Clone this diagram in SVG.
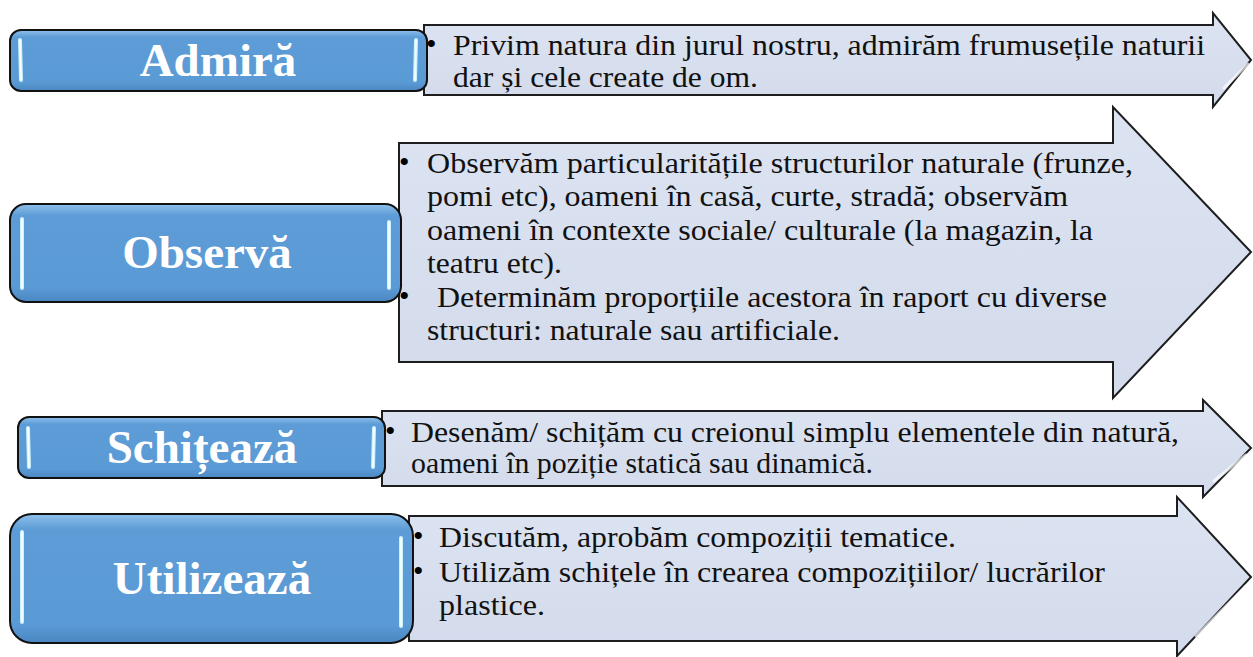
<svg xmlns="http://www.w3.org/2000/svg" width="1253" height="657" viewBox="0 0 1253 657">
  <defs>
    <linearGradient id="boxGrad" x1="0" y1="0" x2="0" y2="1">
      <stop offset="0" stop-color="#8EC0EC"/>
      <stop offset="0.12" stop-color="#5D9CD6"/>
      <stop offset="0.85" stop-color="#5B9BD5"/>
      <stop offset="1" stop-color="#4A87C2"/>
    </linearGradient>
    <linearGradient id="arrowGrad" x1="0" y1="0" x2="0" y2="1">
      <stop offset="0" stop-color="#DCE3F1"/>
      <stop offset="1" stop-color="#D3DBEC"/>
    </linearGradient>
  </defs>
  <style>
    .arrow { fill: url(#arrowGrad); stroke: #1E1E1E; stroke-width: 2; stroke-linejoin: miter; }
    .shine { fill: none; stroke: #FFFFFF; stroke-width: 3; stroke-linecap: round; opacity: 0.7; }
    .box { fill: url(#boxGrad); stroke: #111111; stroke-width: 2; }
    .glow { stroke: #C9F1FF; stroke-width: 4; stroke-linecap: round; }
    .glowc { stroke: #FFFFFF; stroke-width: 1.5; stroke-linecap: round; }
    .label { font-family: "Liberation Serif", "Times New Roman", serif; font-weight: bold; font-size: 47px; fill: #FFFFFF; text-anchor: middle; }
    .body { font-family: "Liberation Serif", "Times New Roman", serif; font-size: 30px; fill: #111111; }
    .bul { font-family: "Liberation Serif", "Times New Roman", serif; font-size: 30px; fill: #000000; }
  </style>

  <g id="connectors"></g>

  <g id="row-admira">
    <path class="arrow" d="M424,25 H1213 V13 L1251,60 L1213,107 V95 H424 Z"/>
    <path class="shine" d="M1248,64 L1224,88"/>
    <rect class="box" x="10" y="30" width="417" height="61" rx="11"/>
    <line class="glow" x1="20" y1="40" x2="21" y2="80"/><line class="glowc" x1="20" y1="40" x2="21" y2="80"/>
    <line class="glow" x1="416" y1="40" x2="415" y2="80"/><line class="glowc" x1="416" y1="40" x2="415" y2="80"/>
    <text class="label" x="218" y="76">Admiră</text>
    <text class="bul" x="426" y="54">•</text>
    <text class="body" x="453" y="55" textLength="752" lengthAdjust="spacingAndGlyphs">Privim natura din jurul nostru, admirăm frumusețile naturii</text>
    <text class="body" x="453" y="87" textLength="305" lengthAdjust="spacingAndGlyphs">dar și cele create de om.</text>
  </g>

  <g id="row-observa">
    <path class="arrow" d="M399,143 H1113 V107 L1251,252 L1113,398 V362 H399 Z"/>
    <path class="shine" d="M1246,262 L1150,368"/>
    <rect class="box" x="10" y="204" width="391" height="98" rx="16"/>
    <line class="glow" x1="22" y1="219" x2="22" y2="288"/><line class="glowc" x1="22" y1="219" x2="22" y2="288"/>
    <line class="glow" x1="389" y1="222" x2="389" y2="288"/><line class="glowc" x1="389" y1="222" x2="389" y2="288"/>
    <text class="label" x="207" y="268">Observă</text>
    <text class="bul" x="399" y="172">•</text>
    <text class="body" x="427" y="173" textLength="706" lengthAdjust="spacingAndGlyphs">Observăm particularitățile structurilor naturale (frunze,</text>
    <text class="body" x="427" y="206" textLength="641" lengthAdjust="spacingAndGlyphs">pomi etc), oameni în casă, curte, stradă; observăm</text>
    <text class="body" x="427" y="240" textLength="666" lengthAdjust="spacingAndGlyphs">oameni în contexte sociale/ culturale (la magazin, la</text>
    <text class="body" x="427" y="273" textLength="135" lengthAdjust="spacingAndGlyphs">teatru etc).</text>
    <text class="bul" x="399" y="306">•</text>
    <text class="body" x="437" y="307" textLength="670" lengthAdjust="spacingAndGlyphs">Determinăm proporțiile acestora în raport cu diverse</text>
    <text class="body" x="427" y="340" textLength="413" lengthAdjust="spacingAndGlyphs">structuri: naturale sau artificiale.</text>
  </g>

  <g id="row-schiteaza">
    <path class="arrow" d="M382,411 H1203 V400 L1251,448 L1203,497 V486 H382 Z"/>
    <path class="shine" d="M1246,455 L1214,481"/>
    <rect class="box" x="18" y="417" width="367" height="61" rx="11"/>
    <line class="glow" x1="28" y1="428" x2="29" y2="467"/><line class="glowc" x1="28" y1="428" x2="29" y2="467"/>
    <line class="glow" x1="374" y1="428" x2="373" y2="467"/><line class="glowc" x1="374" y1="428" x2="373" y2="467"/>
    <text class="label" x="202" y="463">Schițează</text>
    <text class="bul" x="385" y="441">•</text>
    <text class="body" x="411" y="442" textLength="768" lengthAdjust="spacingAndGlyphs">Desenăm/ schițăm cu creionul simplu elementele din natură,</text>
    <text class="body" x="411" y="473" textLength="462" lengthAdjust="spacingAndGlyphs">oameni în poziție statică sau dinamică.</text>
  </g>

  <g id="row-utilizeaza">
    <path class="arrow" d="M409,516 H1177 V497 L1251,577 L1177,656 V641 H409 Z"/>
    <path class="shine" d="M1246,586 L1196,636"/>
    <rect class="box" x="10" y="514" width="403" height="129" rx="22"/>
    <line class="glow" x1="22" y1="532" x2="22" y2="622"/><line class="glowc" x1="22" y1="532" x2="22" y2="622"/>
    <line class="glow" x1="401" y1="538" x2="401" y2="626"/><line class="glowc" x1="401" y1="538" x2="401" y2="626"/>
    <text class="label" x="212" y="594">Utilizează</text>
    <text class="bul" x="413" y="546">•</text>
    <text class="body" x="439" y="547" textLength="517" lengthAdjust="spacingAndGlyphs">Discutăm, aprobăm compoziții tematice.</text>
    <text class="bul" x="413" y="581">•</text>
    <text class="body" x="439" y="582" textLength="666" lengthAdjust="spacingAndGlyphs">Utilizăm schițele în crearea compozițiilor/ lucrărilor</text>
    <text class="body" x="439" y="615" textLength="106" lengthAdjust="spacingAndGlyphs">plastice.</text>
  </g>
</svg>
